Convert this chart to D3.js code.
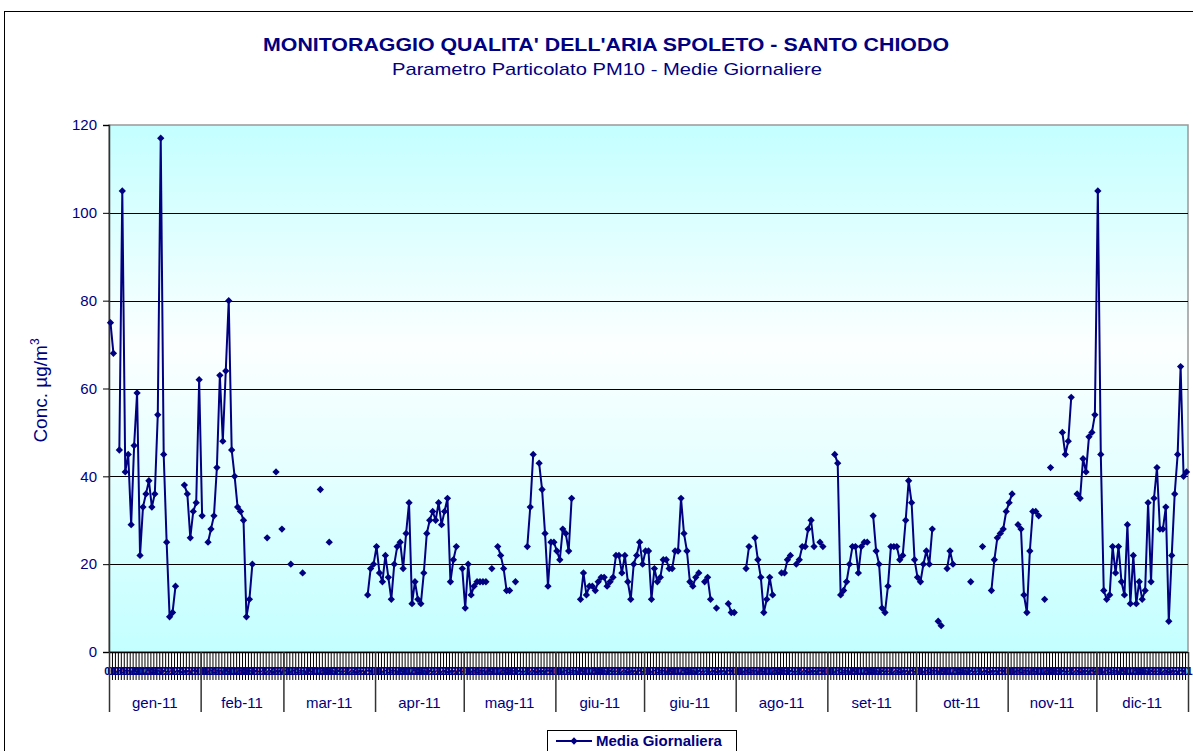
<!DOCTYPE html>
<html>
<head>
<meta charset="utf-8">
<script src="https://cdn.jsdelivr.net/npm/d3@7"></script>
<style>
	body { margin: 0; background: #fff; }
	text { font-family: "Liberation Sans", Arial, sans-serif; fill: #000080; }
</style>
</head>
<body>
<svg id="chart" width="1193" height="751"></svg>
<script>
// Daily PM10 means (µg/m3), one array per month, null = no data
const gen = [75,68,null,46,105,41,45,29,47,59,22,33,36,39,33,36,54,117,45,25,8,9,15,null,null,38,36,26,32,34,62];
const feb = [31,null,25,28,31,42,63,48,64,80,46,40,33,32,30,8,12,20,null,null,null,null,26,null,null,41,null,28];
const mar = [null,null,20,null,null,null,18,null,null,null,null,null,37,null,null,25,null,null,null,null,null,null,null,null,null,null,null,null,13,19,20];
const apr = [24,18,16,22,17,12,20,24,25,19,27,34,11,16,12,11,18,27,30,32,30,34,29,32,35,16,21,24,null,19];
const mag = [10,20,13,15,16,16,16,16,null,19,null,24,22,19,14,14,null,16,null,null,null,24,33,45,null,43,37,27,15,25,25];
const giu = [23,21,28,27,23,35,null,null,12,18,13,15,15,14,16,17,17,15,16,17,22,22,18,22,16,12,20,22,25,20];
const lug = [23,23,12,19,16,17,21,21,19,19,23,23,35,27,23,16,15,17,18,null,16,17,12,null,10,null,null,null,11,9,9];
const ago = [null,null,null,19,24,null,26,21,17,9,12,17,13,null,null,18,18,21,22,null,20,21,24,24,28,30,24,null,25,24,null];
const set = [null,null,45,43,13,14,16,20,24,24,18,24,25,25,null,31,23,20,10,9,15,24,24,24,21,22,30,39,34,21];
const ott = [17,16,20,23,20,28,null,7,6,null,19,23,20,null,null,null,null,null,16,null,null,null,24,null,null,14,21,26,27,28,32];
const nov = [34,36,null,29,28,13,9,23,32,32,31,null,12,null,42,null,null,null,50,45,48,58,null,36,35,44,41,49,50,54];
const dic = [105,45,14,12,13,24,18,24,16,13,29,11,22,11,16,12,14,34,16,35,42,28,28,33,7,22,36,45,65,40,41];

const monthLabels = ["gen-11","feb-11","mar-11","apr-11","mag-11","giu-11","giu-11","ago-11","set-11","ott-11","nov-11","dic-11"];
const yTicks = [0, 20, 40, 60, 80, 100, 120];
const seriesName = "Media Giornaliera";

const values = [].concat(gen, feb, mar, apr, mag, giu, lug, ago, set, ott, nov, dic);
const days = d3.timeDay.range(new Date(2011, 0, 1), new Date(2012, 0, 1));
const data = days.map((d, i) => ({date: d, idx: i, v: values[i]}));

const NAVY = "#000080";
const MARGIN = {top: 125, right: 5, bottom: 99, left: 109};
const CHART_WIDTH = 1193 - MARGIN.left - MARGIN.right;
const CHART_HEIGHT = 751 - MARGIN.top - MARGIN.bottom;

const svg = d3.select("#chart");

// outer chart border
svg.append("rect")
	.attr("x", 4.5).attr("y", 11.5)
	.attr("width", 1210).attr("height", 760)
	.attr("fill", "#fff").attr("stroke", "#000").attr("stroke-width", 1);

// titles
svg.append("text")
	.attr("x", 606).attr("y", 51)
	.attr("text-anchor", "middle")
	.attr("textLength", 686).attr("lengthAdjust", "spacingAndGlyphs")
	.style("font-size", "18px").style("font-weight", "bold")
	.text("MONITORAGGIO QUALITA' DELL'ARIA SPOLETO - SANTO CHIODO");
svg.append("text")
	.attr("x", 607).attr("y", 75)
	.attr("text-anchor", "middle")
	.attr("textLength", 430).attr("lengthAdjust", "spacingAndGlyphs")
	.style("font-size", "17px")
	.text("Parametro Particolato PM10 - Medie Giornaliere");

const xScale = d3.scaleBand().domain(data.map(d => d.idx)).range([0, CHART_WIDTH]).padding(0);
const yScale = d3.scaleLinear().domain([0, 120]).range([CHART_HEIGHT, 0]);
const bw = xScale.bandwidth();

const chart = svg.append("g").attr("transform", `translate(${MARGIN.left}, ${MARGIN.top})`);

// plot area gradient
const grad = svg.append("defs").append("linearGradient")
	.attr("id", "plotBg").attr("x1", 0).attr("y1", 0).attr("x2", 0).attr("y2", 1);
grad.append("stop").attr("offset", "0%").attr("stop-color", "#c4ffff");
grad.append("stop").attr("offset", "42%").attr("stop-color", "#fcffff");
grad.append("stop").attr("offset", "100%").attr("stop-color", "#c4ffff");

chart.append("rect")
	.attr("width", CHART_WIDTH).attr("height", CHART_HEIGHT)
	.attr("fill", "url(#plotBg)")
	.attr("stroke", "#999").attr("stroke-width", 1.5);

// gridlines
chart.append("g")
	.selectAll("line")
	.data(yTicks.filter(t => t > 0 && t < 120))
	.enter().append("line")
	.attr("x1", 0).attr("x2", CHART_WIDTH)
	.attr("y1", d => Math.round(yScale(d)) + 0.5).attr("y2", d => Math.round(yScale(d)) + 0.5)
	.attr("stroke", "#000").attr("stroke-width", 1);

// Y-axis
const yAxis = chart.append("g")
	.call(d3.axisLeft(yScale).tickValues(yTicks).tickSize(6).tickPadding(6));
yAxis.select(".domain").attr("stroke", "#333").attr("stroke-width", 1.5);
yAxis.selectAll(".tick line").attr("stroke", "#000");
yAxis.selectAll(".tick text")
	.style("font-size", "15px").attr("fill", NAVY)
	.style("font-family", "'Liberation Sans', Arial, sans-serif");

const yLabel = svg.append("text")
	.attr("transform", `translate(47, ${MARGIN.top + CHART_HEIGHT / 2 + 2}) rotate(-90)`)
	.attr("text-anchor", "middle")
	.style("font-size", "19px");
yLabel.append("tspan").text("Conc.  µg/m");
yLabel.append("tspan").attr("dy", -8).style("font-size", "12px").text("3");

// X-axis: daily ticks
const xAxis = chart.append("g").attr("transform", `translate(0, ${CHART_HEIGHT})`);
xAxis.selectAll("line.day")
	.data(d3.range(data.length + 1))
	.enter().append("line")
	.attr("class", "day")
	.attr("x1", i => (i < data.length ? xScale(i) : CHART_WIDTH) + 0.5)
	.attr("x2", i => (i < data.length ? xScale(i) : CHART_WIDTH) + 0.5)
	.attr("y1", 0).attr("y2", 28)
	.attr("stroke", "#000").attr("stroke-width", 1);

// daily labels (crowded into a band, as in the original)
const fmtDay = d3.timeFormat("%d");
xAxis.selectAll("text.day")
	.data(data)
	.enter().append("text")
	.attr("class", "day")
	.attr("x", d => xScale(d.idx) + bw / 2)
	.attr("y", 23)
	.attr("text-anchor", "middle")
	.style("font-size", "11px").style("font-weight", "bold")
	.text(d => fmtDay(d.date));

xAxis.append("line")
	.attr("x1", 0).attr("x2", CHART_WIDTH)
	.attr("y1", 0.5).attr("y2", 0.5)
	.attr("stroke", "#000").attr("stroke-width", 1.5);

// month grouping
const monthStarts = d3.range(12).map(m => data.findIndex(d => d.date.getMonth() === m));
const monthEdges = monthStarts.map(i => xScale(i)).concat([CHART_WIDTH]);
xAxis.selectAll("line.month")
	.data(monthEdges)
	.enter().append("line")
	.attr("class", "month")
	.attr("x1", d => d + 0.5).attr("x2", d => d + 0.5)
	.attr("y1", 0).attr("y2", 60)
	.attr("stroke", "#333").attr("stroke-width", 1.5);
xAxis.selectAll("text.month")
	.data(monthLabels)
	.enter().append("text")
	.attr("class", "month")
	.attr("x", (d, i) => (monthEdges[i] + monthEdges[i + 1]) / 2)
	.attr("y", 56)
	.attr("text-anchor", "middle")
	.style("font-size", "15px")
	.text(d => d);

// series line
const line = d3.line()
	.defined(d => d.v !== null)
	.x(d => xScale(d.idx) + bw / 2)
	.y(d => yScale(d.v));

chart.append("path")
	.datum(data)
	.attr("fill", "none")
	.attr("stroke", NAVY)
	.attr("stroke-width", 2)
	.attr("stroke-linejoin", "round")
	.attr("d", line);

const diamond = d3.symbol().type(d3.symbolDiamond2 || d3.symbolDiamond).size(34);
chart.selectAll(".pt")
	.data(data.filter(d => d.v !== null))
	.enter().append("path")
	.attr("class", "pt")
	.attr("d", diamond)
	.attr("transform", d => `translate(${xScale(d.idx) + bw / 2}, ${yScale(d.v)})`)
	.attr("fill", NAVY);

// legend
const legend = svg.append("g").attr("transform", "translate(547, 730)");
legend.append("rect")
	.attr("x", 0.5).attr("y", 0.5).attr("width", 189).attr("height", 30)
	.attr("fill", "#fff").attr("stroke", "#000");
legend.append("line")
	.attr("x1", 9).attr("x2", 45).attr("y1", 11).attr("y2", 11)
	.attr("stroke", NAVY).attr("stroke-width", 2);
legend.append("path")
	.attr("d", diamond)
	.attr("transform", "translate(27, 11)")
	.attr("fill", NAVY);
legend.append("text")
	.attr("x", 49).attr("y", 16)
	.style("font-size", "15px").style("font-weight", "bold")
	.text(seriesName);
</script>
</body>
</html>
